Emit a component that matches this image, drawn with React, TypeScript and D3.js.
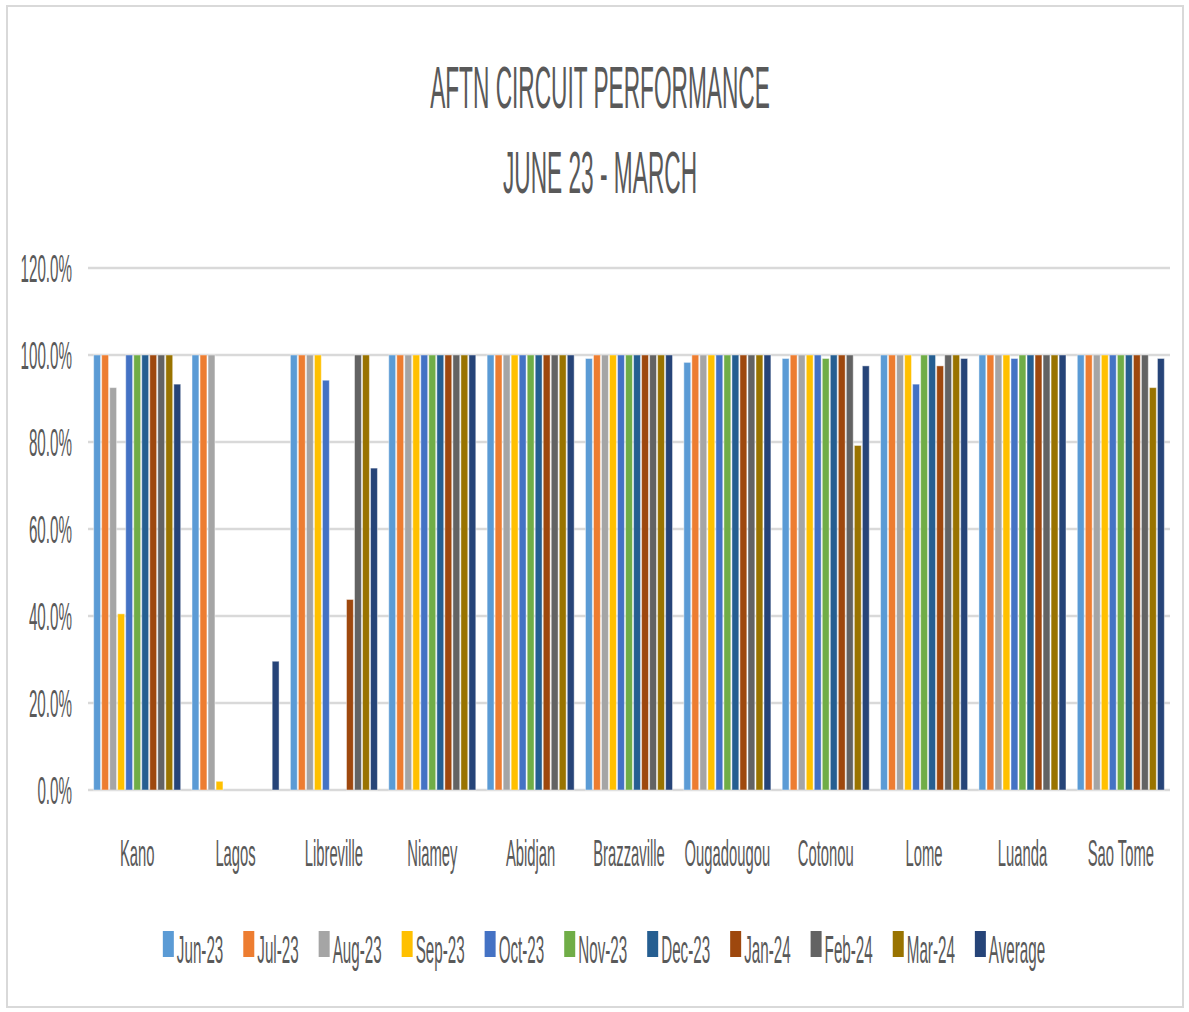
import React, { useRef, useEffect } from 'react';
import * as d3 from 'd3';

const categories = ['Kano', 'Lagos', 'Libreville', 'Niamey', 'Abidjan', 'Brazzaville', 'Ougadougou', 'Cotonou', 'Lome', 'Luanda', 'Sao Tome'];
const seriesNames = ['Jun-23', 'Jul-23', 'Aug-23', 'Sep-23', 'Oct-23', 'Nov-23', 'Dec-23', 'Jan-24', 'Feb-24', 'Mar-24', 'Average'];
const seriesColors = ['#5B9BD5', '#ED7D31', '#A5A5A5', '#FFC000', '#4472C4', '#70AD47', '#255E91', '#9E480E', '#636363', '#997300', '#264478'];

// values per category, in series order (Jun-23 ... Mar-24, Average), as fractions
const kano = [1, 1, 0.925, 0.405, 1, 1, 1, 1, 1, 1, 0.933];
const lagos = [1, 1, 1, 0.02, 0, 0, 0, 0, 0, 0, 0.296];
const libreville = [1, 1, 1, 1, 0.942, 0, 0, 0.438, 1, 1, 0.74];
const niamey = [1, 1, 1, 1, 1, 1, 1, 1, 1, 1, 1];
const abidjan = [1, 1, 1, 1, 1, 1, 1, 1, 1, 1, 1];
const brazzaville = [0.992, 1, 1, 1, 1, 1, 1, 1, 1, 1, 1];
const ougadougou = [0.983, 1, 1, 1, 1, 1, 1, 1, 1, 1, 1];
const cotonou = [0.992, 1, 1, 1, 1, 0.992, 1, 1, 1, 0.792, 0.975];
const lome = [1, 1, 1, 1, 0.933, 1, 1, 0.975, 1, 1, 0.992];
const luanda = [1, 1, 1, 1, 0.992, 1, 1, 1, 1, 1, 1];
const saoTome = [1, 1, 1, 1, 1, 1, 1, 1, 1, 0.925, 0.992];
const values = [kano, lagos, libreville, niamey, abidjan, brazzaville, ougadougou, cotonou, lome, luanda, saoTome];

const yTicks = [0, 0.2, 0.4, 0.6, 0.8, 1.0, 1.2];

const App: React.FC = () => {
  const svgRef = useRef<SVGSVGElement>(null);

  useEffect(() => {
    if (!svgRef.current) return;
    const width = 1189;
    const height = 1012;
    const svg = d3.select(svgRef.current);
    svg.selectAll('*').remove();

    const font = '"Liberation Sans", Arial, sans-serif';
    const textColor = '#595959';
    const sx = 0.4; // text in the source is strongly condensed

    // frame
    svg.append('rect')
      .attr('x', 7).attr('y', 6)
      .attr('width', 1176).attr('height', 1001)
      .attr('fill', '#fff')
      .attr('stroke', '#d9d9d9')
      .attr('stroke-width', 2);

    const plot = { left: 88, right: 1170, top: 268, bottom: 790 };

    const y = d3.scaleLinear().domain([0, 1.2]).range([plot.bottom, plot.top]);
    const x0 = d3.scaleBand<string>()
      .domain(categories)
      .range([plot.left, plot.right])
      .paddingInner(0.115)
      .paddingOuter(0.0575);
    const x1 = d3.scaleBand<string>()
      .domain(seriesNames)
      .range([0, x0.bandwidth()])
      .paddingInner(0.14);

    const condensedText = (
      parent: d3.Selection<any, unknown, null, undefined>,
      tx: number, ty: number, txt: string, size: number, anchor: string, scale = sx
    ) => parent.append('text')
      .attr('transform', `translate(${tx},${ty}) scale(${scale},1)`)
      .attr('text-anchor', anchor)
      .attr('font-family', font)
      .attr('font-size', size)
      .attr('fill', textColor)
      .text(txt);

    // gridlines + y labels
    yTicks.forEach(t => {
      svg.append('line')
        .attr('x1', plot.left).attr('x2', plot.right)
        .attr('y1', y(t)).attr('y2', y(t))
        .attr('stroke', '#d9d9d9')
        .attr('stroke-width', 2.5);
      condensedText(svg, 72, y(t) + 14, d3.format('.1%')(t), 38, 'end');
    });

    // bars
    const groups = svg.append('g');
    categories.forEach((cat, ci) => {
      seriesNames.forEach((s, si) => {
        const v = values[ci][si];
        if (v <= 0) return;
        groups.append('rect')
          .attr('x', (x0(cat) as number) + (x1(s) as number))
          .attr('y', y(v))
          .attr('width', x1.bandwidth())
          .attr('height', y(0) - y(v))
          .attr('fill', seriesColors[si])
          .attr('stroke', '#ffffff')
          .attr('stroke-opacity', 0.45)
          .attr('stroke-width', 1);
      });
      condensedText(svg, (x0(cat) as number) + x0.bandwidth() / 2, 866, cat, 37, 'middle');
    });

    // title
    condensedText(svg, 600, 108, 'AFTN CIRCUIT PERFORMANCE', 60, 'middle', 0.378);
    condensedText(svg, 600, 193, 'JUNE 23 - MARCH', 60, 'middle', 0.378);

    // legend
    const legend = svg.append('g');
    let cursor = 0;
    seriesNames.forEach((s, i) => {
      legend.append('rect')
        .attr('x', cursor).attr('y', 931)
        .attr('width', 11).attr('height', 26)
        .attr('fill', seriesColors[i]);
      const t = condensedText(legend, cursor + 14, 963, s, 38, 'start');
      const w = (t.node() as SVGTextElement).getComputedTextLength() * sx;
      cursor += 14 + w + 20;
    });
    const legendWidth = cursor - 20;
    legend.attr('transform', `translate(${604 - legendWidth / 2},0)`);

    svg.attr('width', width).attr('height', height);
  }, []);

  return (
    <svg
      ref={svgRef}
      width={1189}
      height={1012}
      style={{ position: 'absolute', left: 0, top: 0, background: '#fff' }}
    />
  );
};

export default App;
